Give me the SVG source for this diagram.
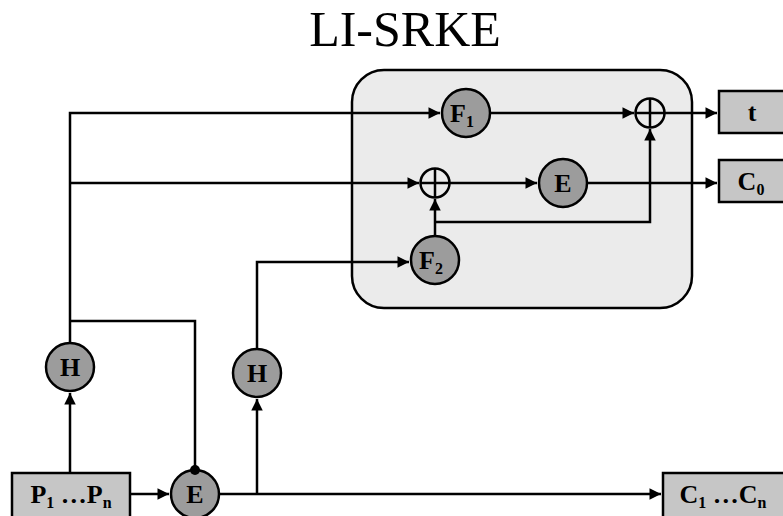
<svg xmlns="http://www.w3.org/2000/svg" width="783" height="516" viewBox="0 0 783 516">
<style>
.ln{fill:none;stroke:#000;stroke-width:2.5}
.nd{fill:#9c9c9c;stroke:#000;stroke-width:2.5}
.bx{fill:#c6c6c6;stroke:#000;stroke-width:2.5}
.pl{fill:none;stroke:#000;stroke-width:2.5}
.tx{font-family:"Liberation Serif",serif;font-weight:bold;font-size:26px;text-anchor:middle}
.sb{font-size:16px}
</style>
<defs>
<marker id="ar" viewBox="0 0 10 10" refX="10" refY="5" markerWidth="5" markerHeight="4.6" orient="auto" markerUnits="strokeWidth">
<path d="M0,0 L10,5 L0,10 z" fill="#000"/>
</marker>
</defs>
<rect width="783" height="516" fill="#fff"/>
<text x="405" y="46" font-family="Liberation Serif,serif" font-size="50" text-anchor="middle">LI-SRKE</text>
<rect id="panel" x="352" y="70" width="340" height="238" rx="32" fill="#ebebeb" stroke="#000" stroke-width="2.5"/>
<g id="connectors">
<path class="ln" d="M70,343 V113 H440" marker-end="url(#ar)"/>
<path class="ln" d="M70,183 H419" marker-end="url(#ar)"/>
<path class="ln" d="M490,113 H634" marker-end="url(#ar)"/>
<path class="ln" d="M665,113 H717" marker-end="url(#ar)"/>
<path class="ln" d="M449,183 H537" marker-end="url(#ar)"/>
<path class="ln" d="M587,183 H717" marker-end="url(#ar)"/>
<path class="ln" d="M435,236 V199" marker-end="url(#ar)"/>
<path class="ln" d="M435,222 H650 V129" marker-end="url(#ar)"/>
<path class="ln" d="M70,321 H195 V470"/>
<path class="ln" d="M70,473 V393" marker-end="url(#ar)"/>
<path class="ln" d="M130,494 H169" marker-end="url(#ar)"/>
<path class="ln" d="M219,494 H661" marker-end="url(#ar)"/>
<path class="ln" d="M257,494 V399" marker-end="url(#ar)"/>
<path class="ln" d="M257,349 V262 H409" marker-end="url(#ar)"/>
</g>
<g id="F1"><circle class="nd" cx="466" cy="113" r="24"/><text class="tx" x="462" y="122">F<tspan class="sb" dy="5">1</tspan></text></g>
<g id="plus1"><circle class="pl" cx="650" cy="113" r="14.5"/><path class="ln" d="M635.5,113 H664.5 M650,98.5 V127.5"/></g>
<g id="plus2"><circle class="pl" cx="435" cy="183" r="14.5"/><path class="ln" d="M420.5,183 H449.5 M435,168.5 V197.5"/></g>
<g id="E1"><circle class="nd" cx="563" cy="183" r="24"/><text class="tx" x="563" y="192">E</text></g>
<g id="F2"><circle class="nd" cx="435" cy="260" r="24"/><text class="tx" x="431" y="269">F<tspan class="sb" dy="5">2</tspan></text></g>
<g id="t"><rect class="bx" x="719" y="91" width="80" height="42"/><text class="tx" x="752" y="121">t</text></g>
<g id="C0"><rect class="bx" x="719" y="160" width="80" height="42"/><text class="tx" x="751" y="190">C<tspan class="sb" dy="5">0</tspan></text></g>
<g id="H1"><circle class="nd" cx="70" cy="367" r="24"/><text class="tx" x="70" y="376">H</text></g>
<g id="H2"><circle class="nd" cx="257" cy="373" r="24"/><text class="tx" x="257" y="382">H</text></g>
<g id="E2"><circle class="nd" cx="195" cy="494" r="24"/><text class="tx" x="195" y="503">E</text><circle cx="195" cy="470" r="5" fill="#000"/></g>
<g id="P"><rect class="bx" x="12" y="473" width="118" height="50"/><text class="tx" x="71" y="503">P<tspan class="sb" dy="5">1</tspan><tspan dy="-5"> …P</tspan><tspan class="sb" dy="5">n</tspan></text></g>
<g id="C"><rect class="bx" x="663" y="473" width="130" height="50"/><text class="tx" x="723" y="503">C<tspan class="sb" dy="5">1</tspan><tspan dy="-5"> …C</tspan><tspan class="sb" dy="5">n</tspan></text></g>
</svg>
